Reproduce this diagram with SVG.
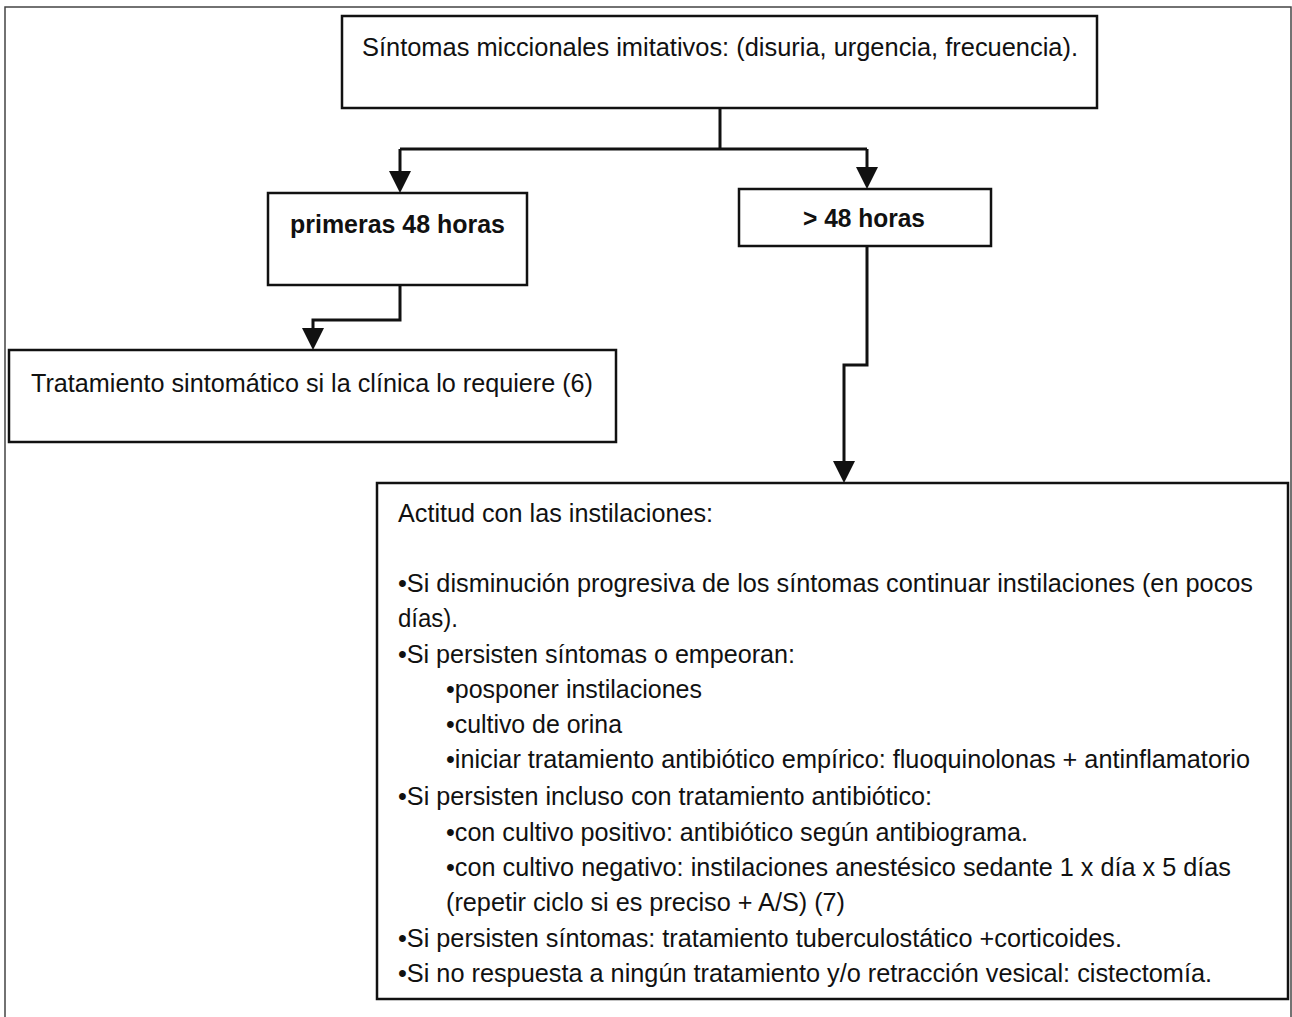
<svg xmlns="http://www.w3.org/2000/svg" width="1292" height="1017" viewBox="0 0 1292 1017">
<style>
.box{fill:#fff;stroke:#111;stroke-width:2.5}
.frame{fill:none;stroke:#444;stroke-width:1.5}
.t{font-family:"Liberation Sans",Arial,sans-serif;font-size:26px;fill:#111}
.b{font-family:"Liberation Sans",Arial,sans-serif;font-size:25px;font-weight:bold;fill:#111}
.c{fill:none;stroke:#111;stroke-width:3}
</style>
<defs>
<marker id="ah" markerUnits="userSpaceOnUse" markerWidth="22" markerHeight="22" refX="0" refY="11" orient="auto" viewBox="0 0 22 22">
<path d="M0,0 L22,11 L0,22 z" fill="#111"/>
</marker>
</defs>
<rect width="1292" height="1017" fill="#fff"/>
<rect class="frame" x="5" y="7" width="1286" height="1020"/>
<g id="connectors">
<path class="c" d="M720,108 V149"/>
<path class="c" d="M400,149 H867"/>
<path class="c" d="M400,149 V171" marker-end="url(#ah)"/>
<path class="c" d="M867,149 V167" marker-end="url(#ah)"/>
<path class="c" d="M400,285 V320 H313 V328" marker-end="url(#ah)"/>
<path class="c" d="M867,246 V365 H844 V461" marker-end="url(#ah)"/>
</g>
<g id="n-top">
<rect class="box" x="342" y="16" width="755" height="92"/>
<text class="t" x="362" y="56" textLength="716" lengthAdjust="spacingAndGlyphs">Síntomas miccionales imitativos: (disuria, urgencia, frecuencia).</text>
</g>
<g id="n-primeras">
<rect class="box" x="268" y="193" width="259" height="92"/>
<text class="b" x="290" y="233" textLength="215" lengthAdjust="spacingAndGlyphs">primeras 48 horas</text>
</g>
<g id="n-mas48">
<rect class="box" x="739" y="189" width="252" height="57"/>
<text class="b" x="803" y="227" textLength="122" lengthAdjust="spacingAndGlyphs">&gt; 48 horas</text>
</g>
<g id="n-tratamiento">
<rect class="box" x="9" y="350" width="607" height="92"/>
<text class="t" x="31" y="392" textLength="562" lengthAdjust="spacingAndGlyphs">Tratamiento sintomático si la clínica lo requiere (6)</text>
</g>
<g id="n-actitud">
<rect class="box" x="377" y="483" width="911" height="516"/>
<text class="t" x="398" y="522" textLength="315" lengthAdjust="spacingAndGlyphs">Actitud con las instilaciones:</text>
<text class="t" x="398" y="592" textLength="855" lengthAdjust="spacingAndGlyphs">•Si disminución progresiva de los síntomas continuar instilaciones (en pocos</text>
<text class="t" x="398" y="627" textLength="60" lengthAdjust="spacingAndGlyphs">días).</text>
<text class="t" x="398" y="663" textLength="397" lengthAdjust="spacingAndGlyphs">•Si persisten síntomas o empeoran:</text>
<text class="t" x="446" y="698" textLength="256" lengthAdjust="spacingAndGlyphs">•posponer instilaciones</text>
<text class="t" x="446" y="733" textLength="176" lengthAdjust="spacingAndGlyphs">•cultivo de orina</text>
<text class="t" x="446" y="768" textLength="804" lengthAdjust="spacingAndGlyphs">•iniciar tratamiento antibiótico empírico: fluoquinolonas + antinflamatorio</text>
<text class="t" x="398" y="805" textLength="534" lengthAdjust="spacingAndGlyphs">•Si persisten incluso con tratamiento antibiótico:</text>
<text class="t" x="446" y="841" textLength="582" lengthAdjust="spacingAndGlyphs">•con cultivo positivo: antibiótico según antibiograma.</text>
<text class="t" x="446" y="876" textLength="785" lengthAdjust="spacingAndGlyphs">•con cultivo negativo: instilaciones anestésico sedante 1 x día x 5 días</text>
<text class="t" x="446" y="911" textLength="399" lengthAdjust="spacingAndGlyphs">(repetir ciclo si es preciso + A/S) (7)</text>
<text class="t" x="398" y="947" textLength="724" lengthAdjust="spacingAndGlyphs">•Si persisten síntomas: tratamiento tuberculostático +corticoides.</text>
<text class="t" x="398" y="982" textLength="814" lengthAdjust="spacingAndGlyphs">•Si no respuesta a ningún tratamiento y/o retracción vesical: cistectomía.</text>
</g>
</svg>
